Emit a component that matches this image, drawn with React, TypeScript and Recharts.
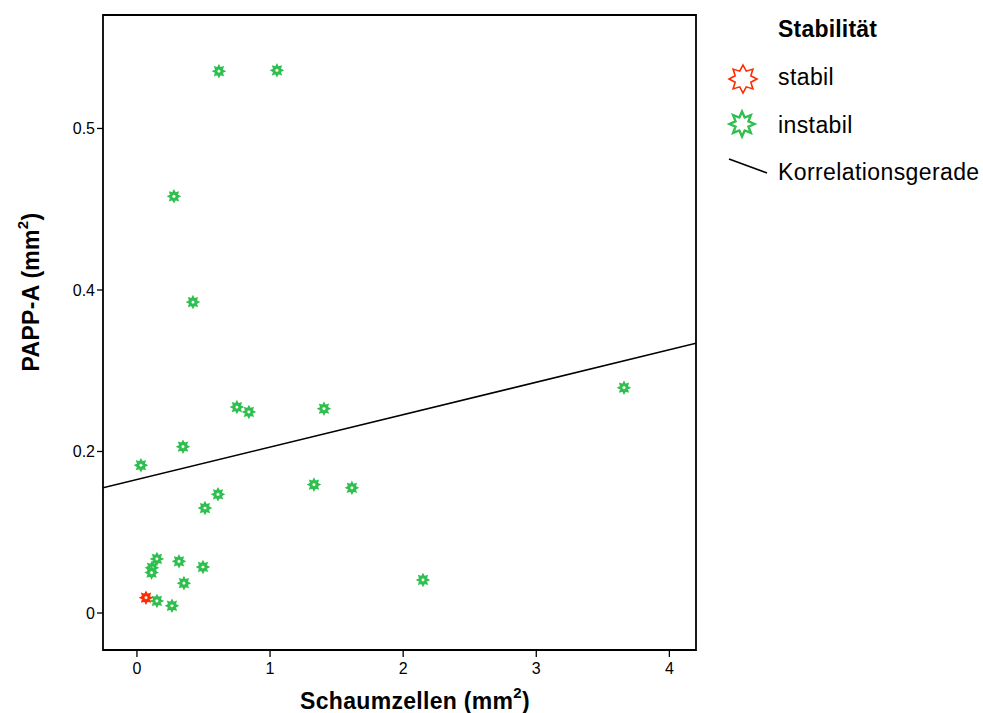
import * as React from 'react';
import { ScatterChart, Scatter, XAxis, YAxis, ReferenceArea, Legend, Label } from 'recharts';

// values
const stabil = [{ x: 0.068, y: 0.019 }];
const instabil = [
    { x: 0.616, y: 0.671 },
    { x: 1.052, y: 0.672 },
    { x: 0.278, y: 0.516 },
    { x: 0.421, y: 0.385 },
    { x: 0.751, y: 0.255 },
    { x: 0.841, y: 0.249 },
    { x: 1.405, y: 0.253 },
    { x: 3.659, y: 0.279 },
    { x: 0.346, y: 0.206 },
    { x: 0.03, y: 0.183 },
    { x: 0.609, y: 0.147 },
    { x: 0.511, y: 0.13 },
    { x: 1.33, y: 0.159 },
    { x: 1.615, y: 0.155 },
    { x: 0.15, y: 0.067 },
    { x: 0.316, y: 0.064 },
    { x: 0.113, y: 0.056 },
    { x: 0.11, y: 0.05 },
    { x: 0.496, y: 0.057 },
    { x: 0.353, y: 0.037 },
    { x: 0.15, y: 0.015 },
    { x: 0.263, y: 0.009 },
    { x: 2.149, y: 0.041 },
];
const korrelationsgerade = [
    { x: -0.255, y: 0.155 },
    { x: 4.2, y: 0.334 },
];

const xTicks = [0, 1, 2, 3, 4];
const yTicks = [0, 0.2, 0.4, 0.6];
const yTickLabels = ['0', '0.2', '0.4', '0.5'];
const xDomain = [-0.255, 4.2];
const yDomain = [-0.0458, 0.7405];

const FONT = 'Arial, "Liberation Sans", Helvetica, sans-serif';
const RED = '#ff2a00';
const GREEN = '#2fbf4f';

function starPath(cx: number, cy: number, R: number, r: number) {
    let d = '';
    for (let i = 0; i < 16; i++) {
        const a = (Math.PI / 8) * i - Math.PI / 2;
        const rad = i % 2 === 0 ? R : r;
        d += (i === 0 ? 'M' : 'L') + (cx + rad * Math.cos(a)).toFixed(2) + ',' + (cy + rad * Math.sin(a)).toFixed(2);
    }
    return d + 'Z';
}

const makeStar = (color: string) => (props: any) => {
    const { cx, cy } = props;
    return <path d={starPath(cx, cy, 4.6, 2.8)} fill="#fff" stroke={color} strokeWidth={2.5} />;
};

const itemText = { fontSize: 23, fill: '#000', letterSpacing: 0.4 };

const renderLegend = () => (
    <svg width={263} height={190} style={{ fontFamily: FONT }}>
        <text x={58} y={27} fontSize={23} fontWeight="bold" fill="#000" letterSpacing={0.2}>Stabilität</text>
        <path d={starPath(23, 69, 14, 8.5)} fill="#fff" stroke={RED} strokeWidth={1.6} />
        <text x={58} y={75} {...itemText}>stabil</text>
        <path d={starPath(22, 114, 12.5, 7)} fill="#fff" stroke={GREEN} strokeWidth={2.4} />
        <text x={58} y={123} {...itemText}>instabil</text>
        <line x1={9} y1={149} x2={47} y2={163} stroke="#000" strokeWidth={1.6} />
        <text x={58} y={170} {...itemText}>Korrelationsgerade</text>
    </svg>
);

const XTitle = () => (
    <text x={415} y={709} textAnchor="middle" fontSize={23} fontWeight="bold" fontFamily={FONT} fill="#000" letterSpacing={0.3}>
        Schaumzellen (mm<tspan fontSize={15} dy={-11}>2</tspan><tspan dy={11}>)</tspan>
    </text>
);

const YTitle = () => (
    <text x={39} y={292} textAnchor="middle" fontSize={23} fontWeight="bold" fontFamily={FONT} fill="#000" letterSpacing={0.3}
        transform="rotate(-90, 39, 292)">
        PAPP-A (mm<tspan fontSize={15} dy={-11}>2</tspan><tspan dy={11}>)</tspan>
    </text>
);

export default function App() {
    return (
        <div style={{ position: 'absolute', left: 0, top: 0 }}>
            <ScatterChart width={983} height={713} margin={{ top: 15, right: 287, bottom: 0, left: 0 }}>
                <XAxis
                    type="number"
                    dataKey="x"
                    domain={xDomain}
                    ticks={xTicks}
                    allowDataOverflow
                    height={63}
                    axisLine={false}
                    tickSize={7}
                    tickMargin={6}
                    tickLine={{ stroke: '#000', strokeWidth: 1.3 }}
                    tick={{ fill: '#000', fontSize: 16, fontFamily: FONT }}
                >
                    <Label content={<XTitle />} />
                </XAxis>
                <YAxis
                    type="number"
                    dataKey="y"
                    domain={yDomain}
                    ticks={yTicks}
                    allowDataOverflow
                    width={103}
                    axisLine={false}
                    tickSize={6}
                    tickMargin={2}
                    tickLine={{ stroke: '#000', strokeWidth: 1.3 }}
                    tick={{ fill: '#000', fontSize: 16, fontFamily: FONT }}
                    tickFormatter={(v: number) => yTickLabels[yTicks.indexOf(v)] ?? String(v)}
                >
                    <Label content={<YTitle />} />
                </YAxis>
                <ReferenceArea
                    x1={xDomain[0]}
                    x2={xDomain[1]}
                    y1={yDomain[0]}
                    y2={yDomain[1]}
                    fill="none"
                    fillOpacity={0}
                    stroke="#000"
                    strokeWidth={1.8}
                />
                <Scatter
                    data={korrelationsgerade}
                    line={{ stroke: '#000', strokeWidth: 1.6 }}
                    shape={() => <g />}
                    legendType="none"
                    isAnimationActive={false}
                />
                <Scatter data={instabil} shape={makeStar(GREEN)} isAnimationActive={false} />
                <Scatter data={stabil} shape={makeStar(RED)} isAnimationActive={false} />
                <Legend
                    layout="horizontal"
                    verticalAlign="middle"
                    align="center"
                    content={renderLegend}
                    wrapperStyle={{ position: 'absolute', left: 720, top: 10, width: 263, height: 190 }}
                />
            </ScatterChart>
        </div>
    );
}
